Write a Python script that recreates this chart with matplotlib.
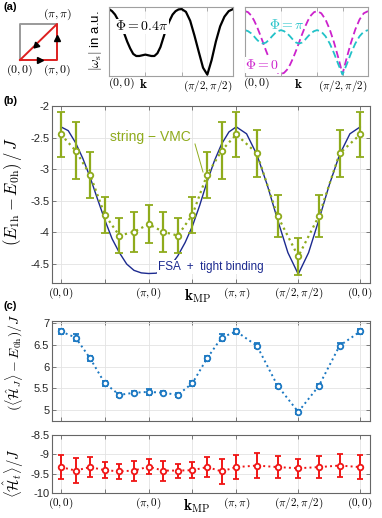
import numpy as np
import matplotlib
matplotlib.use('Agg')
import matplotlib.pyplot as plt
from matplotlib.lines import Line2D

plt.rcParams['font.family'] = ['Liberation Sans', 'DejaVu Sans']
plt.rcParams['mathtext.fontset'] = 'cm'
plt.rcParams['axes.unicode_minus'] = False

# ---------------- data ----------------
corner_labels = [r'$(0,0)$', r'$(\pi,0)$', r'$(\pi,\pi)$', r'$(\pi/2,\pi/2)$', r'$(0,0)$']
corners_k = [(0, 0), (np.pi, 0), (np.pi, np.pi), (np.pi / 2, np.pi / 2), (0, 0)]
mp_steps = [6, 6, 3, 3]        # momenta computed per path segment
curve_steps = [12, 12, 6, 6]   # sampling of the continuous curves

# panel (a): |omega_s| in a.u.
phi04 = [0.97, 0.94, 0.89, 0.81, 0.72, 0.62, 0.50, 0.40, 0.32, 0.29, 0.29, 0.30, 0.31,
         0.30, 0.29, 0.29, 0.33, 0.42, 0.56, 0.70, 0.80, 0.89, 0.94, 0.965, 0.97,
         0.93, 0.80, 0.585, 0.35, 0.12, 0.02,
         0.23, 0.50, 0.72, 0.86, 0.94, 0.97]
phi_pi = [0.665, 0.65, 0.62, 0.575, 0.525, 0.485, 0.47, 0.485, 0.525, 0.575, 0.62, 0.65, 0.665,
          0.65, 0.62, 0.575, 0.525, 0.485, 0.47, 0.485, 0.525, 0.575, 0.62, 0.65, 0.665,
          0.643, 0.575, 0.47, 0.33, 0.17, 0.02,
          0.17, 0.33, 0.47, 0.575, 0.643, 0.665]
phi_0 = [0.94, 0.925, 0.88, 0.807, 0.713, 0.603, 0.485, 0.367, 0.258, 0.163, 0.091, 0.045, 0.03,
         0.045, 0.091, 0.163, 0.258, 0.367, 0.485, 0.603, 0.713, 0.807, 0.88, 0.925, 0.94,
         0.909, 0.818, 0.673, 0.485, 0.266, 0.03,
         0.266, 0.485, 0.673, 0.818, 0.909, 0.94]

# panel (b)
fsa_tb = [-2.33, -2.39, -2.58, -2.83, -3.13, -3.47, -3.80, -4.10, -4.32, -4.50, -4.60, -4.64, -4.65,
          -4.645, -4.61, -4.53, -4.37, -4.16, -3.90, -3.57, -3.20, -2.87, -2.60, -2.41, -2.33,
          -2.44, -2.77, -3.25, -3.80, -4.32, -4.66,
          -4.32, -3.80, -3.25, -2.77, -2.44, -2.33]
e_vmc = [-2.45, -2.705, -3.09, -3.72, -4.05, -3.99, -3.87, -3.99, -4.05, -3.72, -3.09, -2.705,
         -2.45, -2.75, -3.74, -4.38, -3.74, -2.75, -2.45]
e_vmc_err = [0.36, 0.455, 0.36, 0.285, 0.28, 0.32, 0.30, 0.32, 0.28, 0.285, 0.36, 0.455,
             0.36, 0.37, 0.33, 0.29, 0.33, 0.37, 0.36]

# panel (c)
hj = [6.81, 6.67, 6.19, 5.62, 5.35, 5.40, 5.42, 5.40, 5.35, 5.62, 6.19, 6.67,
      6.81, 6.48, 5.56, 4.96, 5.56, 6.48, 6.81]
hj_err = [0.05, 0.09, 0.06, 0.06, 0.05, 0.04, 0.07, 0.04, 0.05, 0.06, 0.06, 0.09,
          0.05, 0.06, 0.04, 0.04, 0.04, 0.06, 0.05]
ht = [-9.33, -9.42, -9.33, -9.41, -9.44, -9.42, -9.32, -9.42, -9.42, -9.41, -9.33, -9.44,
      -9.33, -9.29, -9.33, -9.36, -9.33, -9.29, -9.33]
ht_err = [0.30, 0.33, 0.26, 0.20, 0.20, 0.26, 0.19, 0.26, 0.18, 0.20, 0.26, 0.33,
          0.30, 0.32, 0.28, 0.24, 0.28, 0.30, 0.30]

# ---------------- path helpers ----------------
seg_len = [np.hypot(b[0] - a[0], b[1] - a[1]) for a, b in zip(corners_k[:-1], corners_k[1:])]
corner_pos = np.concatenate([[0.0], np.cumsum(seg_len)])
L = corner_pos[-1]


def path_grid(steps):
    pts = [0.0]
    for i, n in enumerate(steps):
        pts.extend(np.linspace(corner_pos[i], corner_pos[i + 1], n + 1)[1:])
    return np.array(pts)


x_mp = path_grid(mp_steps)
x_curve = path_grid(curve_steps)

# ---------------- figure ----------------
W, H = 382, 518
fig = plt.figure(figsize=(W / 100, H / 100), dpi=100)


def px(x0, y0, x1, y1):
    return [x0 / W, 1 - y1 / H, (x1 - x0) / W, (y1 - y0) / H]


def ftext(x, y, s, **kw):
    return fig.text(x / W, 1 - y / H, s, **kw)


green = '#8FAB1C'
navy = '#1C2A8F'
blue_c = '#1B78C2'
red = '#F01515'
magenta = '#CC22CC'
cyan = '#22C2C8'
frame_col = '#666666'
grid_col = '#e3e3e3'
tick_col = '#262626'


def style_axes(ax, fcol=frame_col):
    for sp in ax.spines.values():
        sp.set_color(fcol)
        sp.set_linewidth(0.8)
    ax.tick_params(direction='in', length=3, width=0.6, color=fcol, top=True, right=True,
                   labelsize=8, labelcolor=tick_col, pad=2)
    ax.grid(True, color=grid_col, lw=0.6)
    ax.set_axisbelow(True)


# --- panel (a): square path diagram ---
ax_sq = fig.add_axes(px(20, 24, 57, 60))
ax_sq.set_xlim(0, np.pi)
ax_sq.set_ylim(0, np.pi)
ax_sq.axis('off')
ax_sq.plot([0, 0, np.pi], [0, np.pi, np.pi], color='#9a9a9a', lw=1.4, clip_on=False)
kx = [c[0] for c in corners_k[:4]]
ky = [c[1] for c in corners_k[:4]]
ax_sq.plot([kx[0], kx[1], kx[2], kx[0]], [ky[0], ky[1], ky[2], ky[0]], color='#dd1f1f', lw=1.4,
           clip_on=False, zorder=3)
ax_sq.plot([0.55 * np.pi], [0], marker='>', color='k', ms=5, clip_on=False, zorder=4)
ax_sq.plot([np.pi], [0.62 * np.pi], marker='^', color='k', ms=5, clip_on=False, zorder=4)
ax_sq.plot([0.42 * np.pi], [0.42 * np.pi], marker=(3, 0, 135), color='k', ms=5, clip_on=False, zorder=4)
ax_sq.text(0, -0.28 * np.pi, corner_labels[0], ha='center', va='center', fontsize=8.5)
ax_sq.text(np.pi, -0.28 * np.pi, corner_labels[1], ha='center', va='center', fontsize=8.5)
ax_sq.text(np.pi, 1.27 * np.pi, corner_labels[2], ha='center', va='center', fontsize=8.5)

# --- panel (a): middle curve ---
ax_a1 = fig.add_axes(px(109, 7, 233, 76))
ax_a1.plot(x_curve, phi04, color='k', lw=1.6)
ax_a1.set_xlim(0, L)
ax_a1.set_ylim(0, 1)
ax_a1.set_yticks([])
ax_a1.set_xticks(corner_pos[1:4])
ax_a1.set_xticklabels(['', '', corner_labels[3]], fontsize=8.5)
style_axes(ax_a1, '#a0a0a0')
ax_a1.grid(True, axis='x', color='#eeeeee', lw=0.6)
ax_a1.tick_params(labelcolor='k')
ax_a1.text(0.26, 0.72, r'$\Phi=0.4\pi$', transform=ax_a1.transAxes, ha='center', va='center',
           fontsize=10, bbox=dict(facecolor='white', edgecolor='none', pad=0.5))
ftext(108, 83, corner_labels[0], ha='left', va='center', fontsize=8.5)
ftext(143, 84, r'$\mathbf{k}$', ha='center', va='center', fontsize=9.5)
ftext(96, 41, r'$|\omega_{\rm s}|$ in a.u.', rotation=90, ha='center', va='center', fontsize=9.5)

# --- panel (a): right curves ---
ax_a2 = fig.add_axes(px(245, 7, 368, 76))
ax_a2.plot(x_curve, phi_0, color=magenta, lw=1.3, ls=(0, (4, 2)))
ax_a2.plot(x_curve, phi_pi, color=cyan, lw=1.3, ls=(0, (4, 2)))
ax_a2.set_xlim(0, L)
ax_a2.set_ylim(0, 1)
ax_a2.set_yticks([])
ax_a2.set_xticks(corner_pos[1:4])
ax_a2.set_xticklabels(['', '', corner_labels[3]], fontsize=8.5)
style_axes(ax_a2, '#a0a0a0')
ax_a2.grid(True, axis='x', color='#eeeeee', lw=0.6)
ax_a2.tick_params(labelcolor='k')
ax_a2.text(0.34, 0.74, r'$\Phi=\pi$', transform=ax_a2.transAxes, ha='center', va='center',
           fontsize=10, color=cyan)
ax_a2.text(0.14, 0.16, r'$\Phi=0$', transform=ax_a2.transAxes, ha='center', va='center',
           fontsize=10, color=magenta, bbox=dict(facecolor='white', edgecolor='none', pad=0.5))
ftext(243, 83, corner_labels[0], ha='left', va='center', fontsize=8.5)
ftext(298, 84, r'$\mathbf{k}$', ha='center', va='center', fontsize=9.5)

# --- shared x axis for (b), (c) ---
xt = [corner_pos[0], corner_pos[0] + np.pi / 2, corner_pos[1], corner_pos[1] + np.pi / 2,
      corner_pos[2], corner_pos[3], corner_pos[4]]
xt_labels = [corner_labels[0], '', corner_labels[1], '', corner_labels[2], corner_labels[3], corner_labels[4]]
xlim = (-0.32, L + 0.35)

# --- panel (b) ---
ax_b = fig.add_axes(px(52, 106, 370, 283))
ax_b.plot(x_curve, fsa_tb, color=navy, lw=1.0, zorder=2)
ax_b.errorbar(x_mp, e_vmc, yerr=e_vmc_err, fmt='o', ls=':', color=green, mfc='white', mec=green,
              ms=4, mew=1.3, lw=1.6, elinewidth=1.6, capsize=3, capthick=1.6, zorder=3)
ax_b.set_xlim(*xlim)
ax_b.set_ylim(-4.8, -2)
ax_b.set_yticks([-4.5, -4, -3.5, -3, -2.5, -2])
ax_b.set_yticklabels(['-4.5', '-4', '-3.5', '-3', '-2.5', '-2'])
ax_b.set_xticks(xt)
ax_b.set_xticklabels(xt_labels, fontsize=8.5)
style_axes(ax_b)
ax_b.tick_params(axis='x', labelcolor='k')
ftext(198, 296, r'$\mathbf{k}_{\rm MP}$', ha='center', va='center', fontsize=11)
ftext(13, 192, r'$(E_{\rm 1h}-E_{\rm 0h})\,/\,J$', rotation=90, ha='center', va='center', fontsize=12)
ftext(150, 137, 'string \u2212 VMC', ha='center', va='center', fontsize=10, color=green)
fig.add_artist(Line2D([195 / W, 203 / W], [1 - 144 / H, 1 - 172 / H], color=green, lw=0.7))
ftext(211, 267, 'FSA  +  tight binding', ha='center', va='center', fontsize=8.5, color=navy,
      bbox=dict(facecolor='white', edgecolor='none', pad=0.8))

# --- panel (c) top ---
ax_c1 = fig.add_axes(px(52, 321, 370, 421))
ax_c1.errorbar(x_mp, hj, yerr=hj_err, fmt='o', ls=':', color=blue_c, mfc='white', mec=blue_c,
               ms=4, mew=1.3, lw=1.4, elinewidth=1.4, capsize=2.5, capthick=1.4)
ax_c1.set_xlim(*xlim)
ax_c1.set_ylim(4.75, 7.05)
ax_c1.set_yticks([5, 5.5, 6, 6.5, 7])
ax_c1.set_yticklabels(['5', '5.5', '6', '6.5', '7'])
ax_c1.set_xticks(xt)
ax_c1.set_xticklabels([])
style_axes(ax_c1)
ftext(14, 362, r'$(\langle\hat{\mathcal{H}}_J\rangle-E_{\rm 0h})/J$', rotation=90,
      ha='center', va='center', fontsize=10)

# --- panel (c) bottom ---
ax_c2 = fig.add_axes(px(52, 435, 370, 493))
ax_c2.errorbar(x_mp, ht, yerr=ht_err, fmt='o', ls=':', color=red, mfc='white', mec=red,
               ms=4, mew=1.3, lw=1.4, elinewidth=1.4, capsize=2.5, capthick=1.4)
ax_c2.set_xlim(*xlim)
ax_c2.set_ylim(-10, -8.5)
ax_c2.set_yticks([-10, -9.5, -9, -8.5])
ax_c2.set_yticklabels(['-10', '-9.5', '-9', '-8.5'])
ax_c2.set_xticks(xt)
ax_c2.set_xticklabels(xt_labels, fontsize=8.5)
style_axes(ax_c2)
ax_c2.tick_params(axis='x', labelcolor='k')
ftext(197, 506, r'$\mathbf{k}_{\rm MP}$', ha='center', va='center', fontsize=11)
ftext(14, 473, r'$\langle\hat{\mathcal{H}}_t\rangle/J$', rotation=90, ha='center', va='center', fontsize=10.5)

# panel letters
ftext(3, 7, '(a)', fontsize=8, fontweight='bold', va='center', ha='left')
ftext(3, 101, '(b)', fontsize=8, fontweight='bold', va='center', ha='left')
ftext(3, 306, '(c)', fontsize=8, fontweight='bold', va='center', ha='left')

fig.savefig('out.png', dpi=100)
